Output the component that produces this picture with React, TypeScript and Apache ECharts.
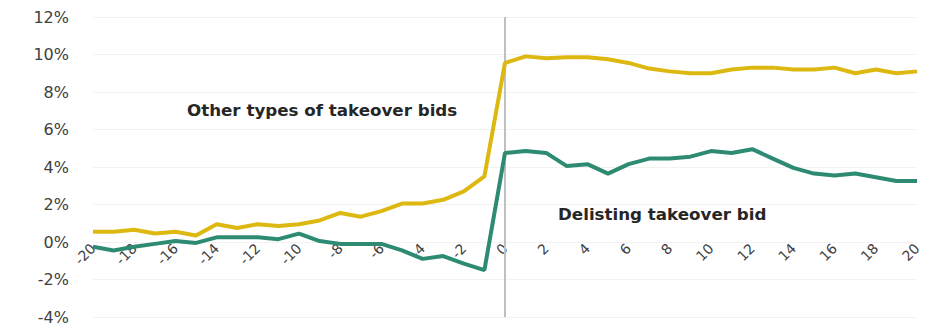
import React, { useEffect, useRef } from 'react';
import * as echarts from 'echarts';

const days = ['-20','-19','-18','-17','-16','-15','-14','-13','-12','-11','-10','-9','-8','-7','-6','-5','-4','-3','-2','-1','0','1','2','3','4','5','6','7','8','9','10','11','12','13','14','15','16','17','18','19','20'];

const otherBids = [0.55, 0.55, 0.65, 0.45, 0.55, 0.35, 0.95, 0.75, 0.95, 0.85, 0.95, 1.15, 1.55, 1.35, 1.65, 2.05, 2.05, 2.25, 2.7, 3.5,
  9.55, 9.9, 9.8, 9.85, 9.85, 9.75, 9.55, 9.25, 9.1, 9.0, 9.0, 9.2, 9.3, 9.3, 9.2, 9.2, 9.3, 9.0, 9.2, 9.0, 9.1];

const delisting = [-0.25, -0.45, -0.25, -0.1, 0.05, -0.05, 0.25, 0.25, 0.25, 0.15, 0.45, 0.05, -0.1, -0.1, -0.1, -0.45, -0.9, -0.75, -1.15, -1.5,
  4.75, 4.85, 4.75, 4.05, 4.15, 3.65, 4.15, 4.45, 4.45, 4.55, 4.85, 4.75, 4.95, 4.45, 3.95, 3.65, 3.55, 3.65, 3.45, 3.25, 3.25];

const yMin = -4;
const yMax = 12;
const yStep = 2;

const labelOther = 'Other types of takeover bids';
const labelDelisting = 'Delisting takeover bid';

const GRID_TOP = 17;
const GRID_BOTTOM = 7;
const CHART_H = 324;

export default function App() {
  const ref = useRef<HTMLDivElement>(null);
  useEffect(() => {
    if (!ref.current) return;
    const chart = echarts.init(ref.current, null, { renderer: 'svg' });
    const plotH = CHART_H - GRID_TOP - GRID_BOTTOM;
    const zeroFromBottom = plotH * (0 - yMin) / (yMax - yMin);
    chart.setOption({
      animation: false,
      backgroundColor: '#ffffff',
      grid: { left: 93, right: 30, top: GRID_TOP, bottom: GRID_BOTTOM, containLabel: false, outerBoundsMode: 'none' },
      xAxis: {
        type: 'category',
        data: days,
        boundaryGap: false,
        position: 'bottom',
        offset: -zeroFromBottom,
        axisLine: { show: false, onZero: false },
        axisTick: { show: false },
        splitLine: { show: false },
        axisLabel: {
          interval: 1,
          rotate: 45,
          margin: 4,
          color: '#404040',
          fontSize: 14,
          fontFamily: 'DejaVu Sans',
        },
      },
      yAxis: {
        type: 'value',
        min: yMin,
        max: yMax,
        interval: yStep,
        axisLine: { show: false },
        axisTick: { show: false },
        splitLine: { show: true, lineStyle: { color: '#f2f2f2', width: 1 } },
        axisLabel: {
          formatter: (v: number) => `${v}%`,
          color: '#404040',
          fontSize: 16,
          fontFamily: 'DejaVu Sans',
          margin: 24,
        },
      },
      series: [
        {
          name: labelOther,
          type: 'line',
          data: otherBids,
          symbol: 'none',
          lineStyle: { color: '#DDB810', width: 4 },
          itemStyle: { color: '#DDB810' },
          z: 3,
          markLine: {
            silent: true,
            symbol: 'none',
            label: { show: false },
            lineStyle: { color: '#bfbfbf', width: 2, type: 'solid' },
            data: [{ xAxis: '0' }],
            z: 1,
          },
        },
        {
          name: labelDelisting,
          type: 'line',
          data: delisting,
          symbol: 'none',
          lineStyle: { color: '#2E8B73', width: 4 },
          itemStyle: { color: '#2E8B73' },
          z: 3,
        },
      ],
      graphic: [
        {
          type: 'text',
          left: 187,
          top: 101,
          style: { text: labelOther, fill: '#262626', font: 'bold 16.7px "DejaVu Sans"' },
        },
        {
          type: 'text',
          left: 558,
          top: 205,
          style: { text: labelDelisting, fill: '#262626', font: 'bold 16.7px "DejaVu Sans"' },
        },
      ],
    });
    return () => chart.dispose();
  }, []);
  return <div ref={ref} style={{ position: 'fixed', left: 0, top: 0, width: 947, height: CHART_H }} />;
}
